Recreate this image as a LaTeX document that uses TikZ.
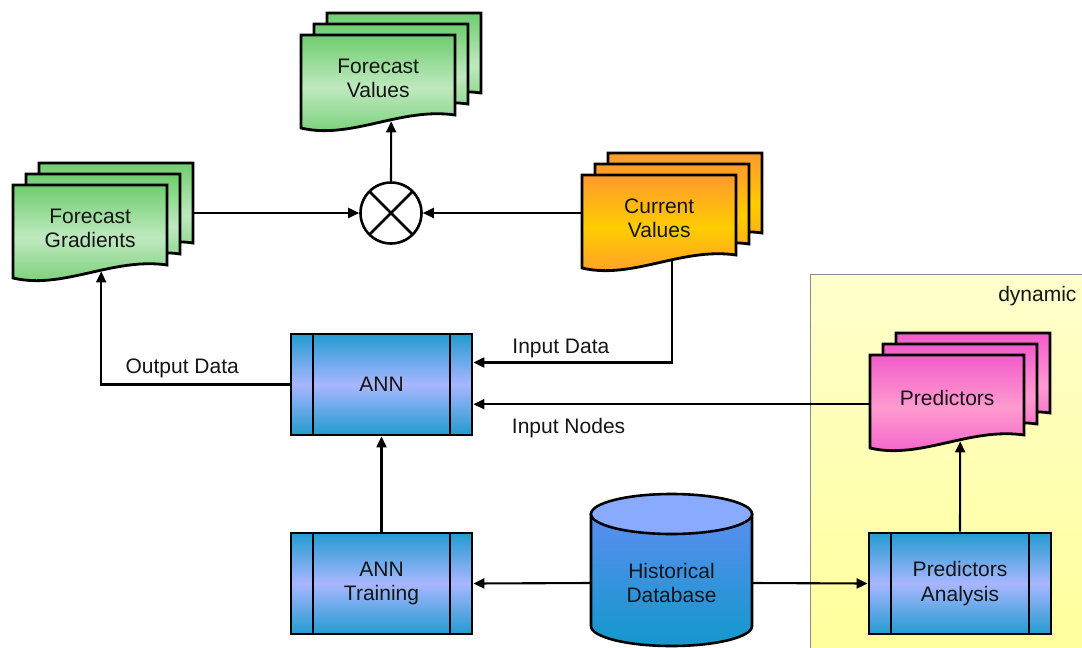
\documentclass[tikz,border=0pt]{standalone}
\usepackage{fontspec}
\setmainfont{Liberation Sans}
\usepackage{tikz}
\usetikzlibrary{positioning, arrows.meta}
\usepackage{xcolor}

\definecolor{greenedge}{HTML}{6FCD6F}
\definecolor{greenmid}{HTML}{BFE9BF}
\definecolor{orangeedge}{HTML}{FF9A2E}
\definecolor{orangemid}{HTML}{FFCC00}
\definecolor{pinkedge}{HTML}{F25CCB}
\definecolor{pinkmid}{HTML}{FF9BCF}
\definecolor{procedge}{HTML}{229BD0}
\definecolor{procmid}{HTML}{A8B6FF}
\definecolor{dbtop}{HTML}{5A8EF0}
\definecolor{dbbottom}{HTML}{1398CC}
\definecolor{dblid}{HTML}{88AAFF}
\definecolor{dyntop}{HTML}{FFFFCC}
\definecolor{dynbottom}{HTML}{FFFF9C}
\definecolor{textdark}{HTML}{151515}

\tikzset{
  docpage/.style={draw=black, line width=2.8pt, line join=miter},
  doctext/.style={anchor=north west, minimum width=154pt, minimum height=86pt, inner sep=0pt, align=center},
  procbox/.style={rectangle, draw=black, line width=2.8pt, minimum width=181pt, minimum height=101pt,
    top color=procedge, bottom color=procedge, middle color=procmid, align=center,
    path picture={
      \draw[line width=2.8pt] ([xshift=22pt]path picture bounding box.north west) -- ([xshift=22pt]path picture bounding box.south west);
      \draw[line width=2.8pt] ([xshift=-22pt]path picture bounding box.north east) -- ([xshift=-22pt]path picture bounding box.south east);
    }},
  mixer/.style={circle, draw=black, line width=2.6pt, fill=white, minimum size=61pt, inner sep=0pt,
    path picture={
      \draw[line width=2.6pt] (path picture bounding box.north west) -- (path picture bounding box.south east);
      \draw[line width=2.6pt] (path picture bounding box.north east) -- (path picture bounding box.south west);
    }},
  dbshape/.style={draw=black, line width=2.6pt},
  dynbox/.style={rectangle, draw=black!45, line width=0.9pt, top color=dyntop, bottom color=dynbottom, inner sep=0pt},
  conn/.style={line width=2.1pt, -{Triangle[length=11pt,width=10pt]}},
}

% stacked documents: name, top left corner of front page, edge colour, middle colour, text
\newcommand{\docstack}[5]{%
  \foreach \dd in {2,1,0}
    \draw[docpage, top color=#3, bottom color=#3, middle color=#4, shift={(#2)}, shift={(13*\dd,11*\dd)}]
      (0,0) -- (154,0) -- (154,-80) .. controls (100,-72) and (50,-105) .. (0,-93) -- cycle;
  \node[doctext] (#1) at (#2) {#5};
}

\begin{document}
\begin{tikzpicture}[x=1pt, y=1pt, font=\fontsize{21}{24.5}\selectfont, text=textdark]
\useasboundingbox (0,0) rectangle (1082,-648);

%%% DYNAMIC
\node[dynbox, anchor=north west, minimum width=276pt, minimum height=378pt] (dyn) at (810,-274) {};
\node[anchor=east] (dynlbl) at (1080,-296) {dynamic};

%%% DOCUMENTS
\docstack{fval}{301,-35}{greenedge}{greenmid}{Forecast\\Values}
\docstack{fgrad}{13,-185}{greenedge}{greenmid}{Forecast\\Gradients}
\docstack{curval}{582,-175}{orangeedge}{orangemid}{Current\\Values}
\docstack{pred}{870,-355}{pinkedge}{pinkmid}{Predictors}

%%% MIXER
\node[mixer] (mix) at (391,-213) {};

%%% PROCESSES
\node[procbox] (ann) at (381.5,-384.5) {ANN};
\node[procbox] (anntrain) at (381.5,-583.5) {ANN\\Training};
\node[procbox, minimum width=182pt] (predan) at (960,-583.5) {Predictors\\Analysis};

%%% DATABASE
\path[dbshape, top color=dbtop, bottom color=dbbottom] (591,-514) -- (591,-626)
  arc[start angle=180, end angle=360, x radius=80.5, y radius=20] -- (752,-514) -- cycle;
\filldraw[dbshape, fill=dblid] (671.5,-514) ellipse[x radius=80.5, y radius=20];
\node[minimum width=161pt, inner sep=0pt, align=center] (hdb) at (671.5,-583) {Historical\\Database};

%%% connections, arrows
\draw[conn] (mix.north) -- ([xshift=13pt]fval.south);
\draw[conn] ([xshift=26pt]fgrad.east |- mix.west) -- (mix.west);
\draw[conn] (curval.west |- mix.east) -- (mix.east);

\draw[conn] ([xshift=13pt]curval.south) |- ([yshift=22pt]ann.east) node[pos=0.78, above, inner sep=4pt] (lblin) {Input Data};
\draw[conn] ([yshift=-6pt]pred.west) -- ([yshift=-6pt]pred.west -| ann.east) node[pos=0.76, below, inner sep=4pt, yshift=-9pt] (lblnodes) {Input Nodes};
\draw[conn] (ann.west) -| ([xshift=11pt]fgrad.south) node[pos=0.285, above, inner sep=6pt] (lblout) {Output Data};

\draw[conn] (anntrain.north) -- (ann.south);
\draw[conn] (hdb.west) -- (anntrain.east);
\draw[conn] (hdb.east) -- (predan.west);
\draw[conn] (predan.north) -- ([xshift=13pt]pred.south);

\end{tikzpicture}
\end{document}
